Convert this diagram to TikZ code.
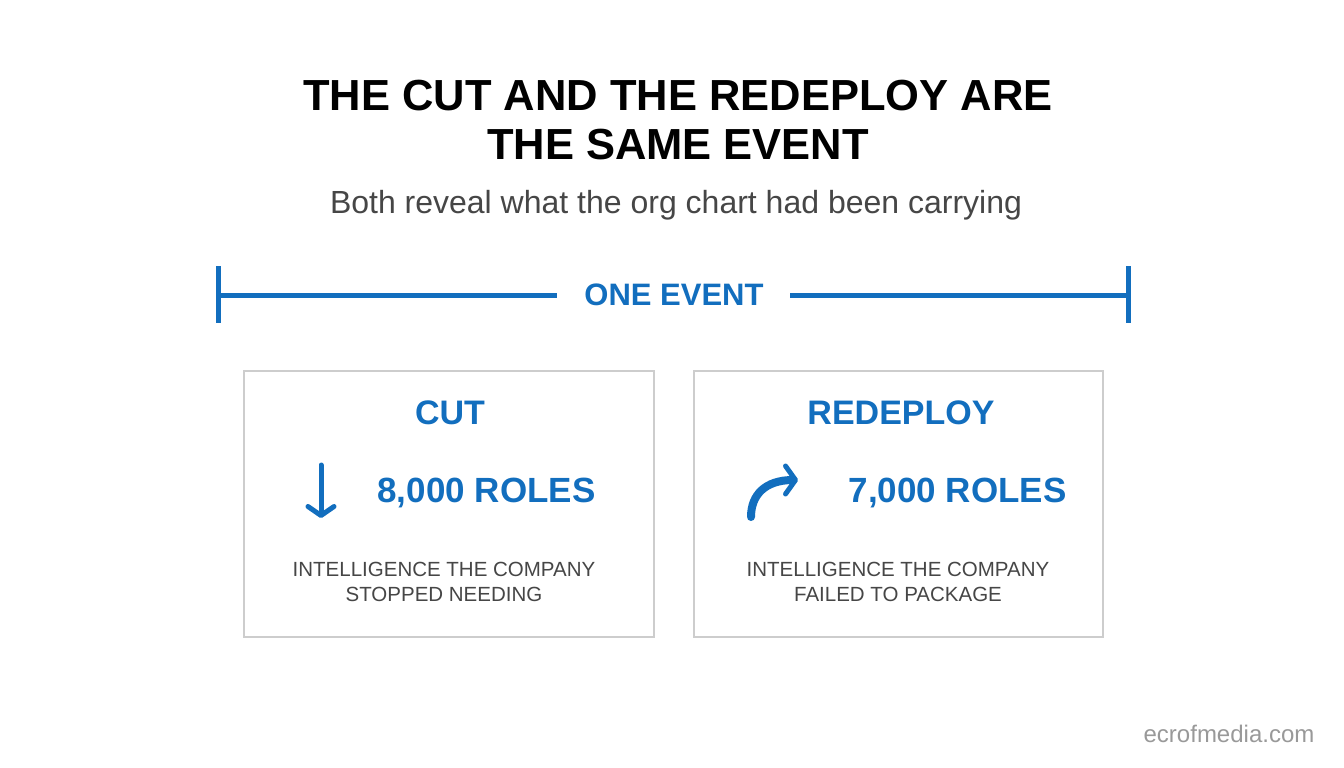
\documentclass[tikz,border=0pt]{standalone}
\usepackage{fontspec}
\setmainfont{Liberation Sans}
\usetikzlibrary{arrows.meta}
\definecolor{blu}{RGB}{18,110,190}
\definecolor{gtx}{RGB}{70,70,70}
\definecolor{bord}{RGB}{205,205,205}
\begin{document}
\begin{tikzpicture}[x=1pt,y=-1pt,
  box/.style={draw=bord,line width=2pt},
  head/.style={text=blu,font=\fontsize{34}{38}\selectfont\bfseries},
  num/.style={text=blu,font=\fontsize{35}{40}\selectfont\bfseries,anchor=west},
  body/.style={text=gtx,font=\fontsize{20.5}{25}\selectfont,align=center},
  bar/.style={draw=blu,line width=5pt}]
\fill[white] (0,0) rectangle (1344,768);
\node (title) at (678,120) [font=\fontsize{43.5}{49}\selectfont\bfseries,align=center] {THE CUT AND THE REDEPLOY ARE\\THE SAME EVENT};
\node (sub) at (676,205) [text=gtx,font=\fontsize{32}{36}\selectfont] {Both reveal what the org chart had been carrying};
\node (one) at (674,295) [text=blu,font=\fontsize{31}{34}\selectfont\bfseries] {ONE EVENT};
\coordinate (l) at (218,295); \coordinate (r) at (1128,295);
\draw[bar] (218,266) -- (218,323); \draw[bar] (1128,266) -- (1128,323);
\draw[bar] (l) -- (557,295); \draw[bar] (790,295) -- (r);
\draw[box] (244,371) rectangle (654,637);
\draw[box] (694,371) rectangle (1103,637);
\node (cut) at (450,413) [head] {CUT};
\node (red) at (901,413) [head] {REDEPLOY};
\coordinate (da) at (321,465); \coordinate (db) at (321,518);
\draw[blu,line width=5pt,line cap=round,-{Straight Barb[length=9pt,width=26pt,line width=5pt,round]}] (da) -- (db);
\coordinate (ca) at (751,517); \coordinate (cb) at (798,480);
\draw[blu,line width=8pt,line cap=round,-{Straight Barb[length=10pt,width=28pt,line width=5pt,round]}] (ca) .. controls (751,495) and (765,480) .. (cb);
\node (n1) at (374,493) [num] {8,000 ROLES};
\node (n2) at (845,493) [num] {7,000 ROLES};
\node (b1) at (444,582) [body] {INTELLIGENCE THE COMPANY\\STOPPED NEEDING};
\node (b2) at (898,582) [body] {INTELLIGENCE THE COMPANY\\FAILED TO PACKAGE};
\node (wm) at (1229,734) [text=gray!80,font=\fontsize{24}{28}\selectfont] {ecrofmedia.com};
\end{tikzpicture}
\end{document}
